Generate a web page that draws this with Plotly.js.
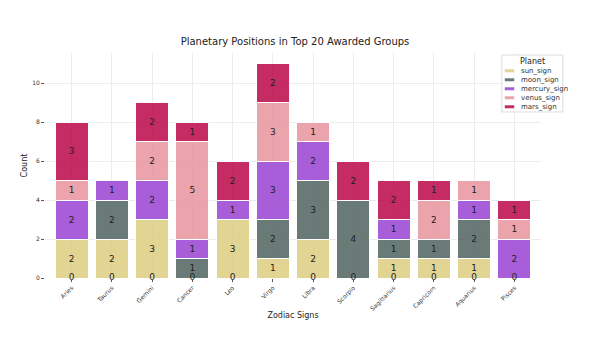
<!DOCTYPE html>
<html>
<head>
<meta charset="utf-8">
<script src="https://cdn.plot.ly/plotly-3.0.1.min.js"></script>
<style>html,body{margin:0;padding:0;background:#fff;}#chart{width:590px;height:360px;}</style>
</head>
<body>
<div id="chart"></div>
<script>
const signs = ["Aries","Taurus","Gemini","Cancer","Leo","Virgo","Libra","Scorpio","Sagittarius","Capricorn","Aquarius","Pisces"];
const sunSign     = [2,2,3,0,3,1,2,0,1,1,1,0];
const moonSign    = [0,2,0,1,0,2,3,4,1,1,2,0];
const mercurySign = [2,1,2,1,1,3,2,0,1,0,1,2];
const venusSign   = [1,0,2,5,0,3,1,0,0,2,1,1];
const marsSign    = [3,0,2,1,2,2,0,2,2,1,0,1];
const planetNames = ["sun_sign","moon_sign","mercury_sign","venus_sign","mars_sign"];
const planetColors = ["#decd7f","#516460","#9a43d2","#e9959e","#ba0848"];
const series = [sunSign, moonSign, mercurySign, venusSign, marsSign];

const traces = series.map((vals, i) => ({
  type: "bar",
  name: planetNames[i],
  x: signs,
  y: vals,
  text: vals.map(v => v === 0 ? "" : String(v)),
  textposition: "inside",
  insidetextanchor: "middle",
  textangle: 0,
  textfont: {family: "DejaVu Sans", size: 9, color: "#222"},
  marker: {color: planetColors[i], opacity: 0.85, line: {color: "#ffffff", width: 1}},
  showlegend: false,
  hoverinfo: "x+y+name"
}));

// zero labels drawn at the base of bars that contain an empty segment
const zeroX = [], zeroY = [], zeroT = [];
signs.forEach((s, k) => {
  const hasZero = series.some(vals => vals[k] === 0);
  if (hasZero) { zeroX.push(s); zeroY.push(0); zeroT.push("0"); }
});
traces.push({
  type: "scatter", mode: "text", x: zeroX, y: zeroY, text: zeroT,
  textposition: "middle center", showlegend: false, hoverinfo: "skip",
  textfont: {family: "DejaVu Sans", size: 9, color: "#222"}, cliponaxis: false
});

// compact legend (matplotlib-like) built from the planet arrays
const legX0 = 0.921, legX1 = 1.044, legY0 = 0.738, legY1 = 0.991;
const rowTop = 0.921, rowStep = 0.040;
const shapes = [{
  type: "rect", xref: "paper", yref: "paper", x0: legX0, x1: legX1, y0: legY0, y1: legY1,
  line: {color: "#dddddd", width: 1}, fillcolor: "rgba(255,255,255,0.9)", layer: "above"
}];
const annotations = [{
  xref: "paper", yref: "paper", x: 0.982, y: 0.964, text: "Planet", showarrow: false,
  xanchor: "center", yanchor: "middle", font: {family: "DejaVu Sans", size: 8, color: "#222"}
}];
planetNames.forEach((nm, i) => {
  const yy = rowTop - i * rowStep;
  shapes.push({
    type: "line", xref: "paper", yref: "paper", x0: 0.927, x1: 0.946, y0: yy, y1: yy,
    line: {color: planetColors[i], width: 3}, opacity: 0.85, layer: "above"
  });
  annotations.push({
    xref: "paper", yref: "paper", x: 0.956, y: yy, text: nm, showarrow: false,
    xanchor: "left", yanchor: "middle", font: {family: "DejaVu Sans", size: 7, color: "#333"}
  });
});

const layout = {
  width: 590, height: 360,
  margin: {l: 45, r: 49, t: 53, b: 82},
  paper_bgcolor: "#ffffff", plot_bgcolor: "#ffffff",
  barmode: "stack", bargap: 0.18,
  font: {family: "DejaVu Sans", size: 6, color: "#333"},
  title: {text: "Planetary Positions in Top 20 Awarded Groups", x: 0.5, xanchor: "center", y: 0.885, yanchor: "middle",
          font: {family: "DejaVu Sans", size: 10, color: "#222"}},
  xaxis: {
    title: {text: "Zodiac Signs", font: {size: 8, color: "#222"}, standoff: 0},
    tickangle: -45, ticks: "outside", ticklen: 3, tickcolor: "#555",
    showgrid: true, gridcolor: "#ececec", gridwidth: 1,
    range: [-0.66, 11.66], showline: false, zeroline: false,
    tickfont: {size: 6, color: "#333"}
  },
  yaxis: {
    title: {text: "Count", font: {size: 8, color: "#222"}, standoff: 3},
    range: [0, 11.55], dtick: 2, ticks: "outside", ticklen: 3, tickcolor: "#555",
    showgrid: true, gridcolor: "#ececec", gridwidth: 1, zeroline: false, showline: false,
    tickfont: {size: 6, color: "#333"}
  },
  shapes: shapes,
  annotations: annotations,
  showlegend: false
};

Plotly.newPlot("chart", traces, layout, {displayModeBar: false, staticPlot: true});
</script>
</body>
</html>
